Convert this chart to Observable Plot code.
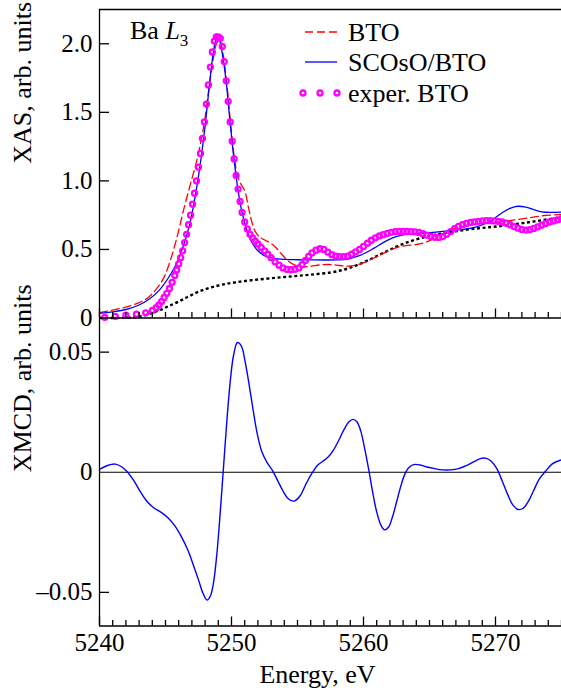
<!DOCTYPE html>
<html>
<head>
<meta charset="utf-8">
<script src="https://cdn.jsdelivr.net/npm/d3@7"></script>
<script src="https://cdn.jsdelivr.net/npm/@observablehq/plot@0.6"></script>
<style>
  body { margin: 0; background: #fff; }
  #chart { position: relative; width: 561px; height: 690px; font-family: "Liberation Serif", "Times New Roman", serif; }
  #chart svg { position: absolute; left: 0; overflow: visible; }
</style>
</head>
<body>
<div id="chart"></div>
<script>
// Energy axis (eV)
const energyTicks = [5240, 5250, 5260, 5270];
const energyMinorTicks = d3.range(5240, 5276).filter(e => e % 10 !== 0);

// Y axis ticks
const xasTicks = [0, 0.5, 1.0, 1.5, 2.0];
const xasTickLabels = ["0", "0.5", "1.0", "1.5", "2.0"];
const xmcdTicks = [-0.05, 0, 0.05];
const xmcdTickLabels = ["\u20130.05", "0", "0.05"];

const seriesNames = ["BTO", "SCOsO/BTO", "exper. BTO"];

// Calculated Ba L3 XAS, bulk BTO [energy, intensity]
const btoCalc = [
  [5240, 0.04], [5241, 0.058], [5242, 0.08], [5243, 0.112], [5243.7, 0.15],
  [5244.3, 0.21], [5244.9, 0.3], [5245.4, 0.43], [5245.9, 0.6], [5246.4, 0.8],
  [5246.9, 0.98], [5247.4, 1.16], [5247.9, 1.4], [5248.3, 1.68], [5248.6, 1.88],
  [5248.9, 2.01], [5249.1, 2.03], [5249.35, 1.93], [5249.6, 1.75], [5249.9, 1.45],
  [5250.2, 1.18], [5250.5, 1.02], [5250.75, 0.97], [5251.0, 0.93], [5251.3, 0.8],
  [5251.6, 0.68], [5251.9, 0.615], [5252.3, 0.58], [5252.8, 0.555], [5253.3, 0.52],
  [5253.8, 0.465], [5254.3, 0.415], [5254.8, 0.385], [5255.3, 0.372], [5256, 0.378],
  [5256.8, 0.388], [5257.5, 0.39], [5258.2, 0.383], [5258.9, 0.378], [5259.6, 0.39],
  [5260.3, 0.415], [5261, 0.448], [5261.7, 0.48], [5262.4, 0.51], [5263.2, 0.528],
  [5264, 0.536], [5264.7, 0.552], [5265.3, 0.578], [5266, 0.615], [5266.7, 0.645],
  [5267.5, 0.668], [5268.5, 0.685], [5269.5, 0.695], [5270.5, 0.703], [5271.5, 0.716],
  [5272.5, 0.73], [5273.5, 0.745], [5275, 0.756]
];

// Calculated Ba L3 XAS, SCOsO/BTO interface
const scosoCalc = [
  [5240, 0.034], [5241, 0.045], [5242, 0.062], [5243, 0.095], [5243.8, 0.14],
  [5244.5, 0.2], [5245.2, 0.29], [5245.8, 0.39], [5246.3, 0.51], [5246.8, 0.67],
  [5247.2, 0.86], [5247.6, 1.1], [5248.0, 1.4], [5248.35, 1.72], [5248.6, 1.92],
  [5248.85, 2.03], [5249.05, 2.03], [5249.3, 1.93], [5249.6, 1.72], [5249.9, 1.42],
  [5250.2, 1.15], [5250.5, 0.93], [5250.8, 0.77], [5251.1, 0.66], [5251.5, 0.56],
  [5252.0, 0.49], [5252.5, 0.455], [5253.2, 0.435], [5254.0, 0.427], [5255.0, 0.425],
  [5256.0, 0.424], [5257.0, 0.423], [5258.0, 0.424], [5258.7, 0.428], [5259.4, 0.445],
  [5260.1, 0.472], [5260.8, 0.51], [5261.5, 0.55], [5262.2, 0.585], [5262.9, 0.605],
  [5263.7, 0.615], [5264.6, 0.62], [5265.5, 0.627], [5266.5, 0.636], [5267.5, 0.646],
  [5268.5, 0.663], [5269.2, 0.688], [5269.9, 0.725], [5270.5, 0.768], [5271.1, 0.8],
  [5271.7, 0.815], [5272.3, 0.808], [5272.9, 0.79], [5273.5, 0.774], [5274.2, 0.77],
  [5275, 0.773]
];

// Edge step (arctangent-like background)
const edgeStep = [
  [5240, 0], [5242, 0.002], [5243, 0.01], [5243.8, 0.03], [5244.5, 0.055],
  [5245.2, 0.085], [5246, 0.12], [5246.8, 0.16], [5247.6, 0.195], [5248.4, 0.222],
  [5249.3, 0.243], [5250.3, 0.26], [5251.5, 0.275], [5253, 0.29], [5254.5, 0.303],
  [5256, 0.316], [5257.5, 0.332], [5258.5, 0.352], [5259.5, 0.385], [5260.5, 0.428],
  [5261.5, 0.475], [5262.5, 0.52], [5263.5, 0.558], [5264.5, 0.587], [5265.5, 0.608],
  [5266.5, 0.625], [5267.5, 0.64], [5268.5, 0.652], [5269.5, 0.662], [5270.5, 0.672],
  [5271.5, 0.685], [5272.5, 0.698], [5273.5, 0.713], [5274.5, 0.728], [5275, 0.735]
];

// Measured Ba L3 XAS of BTO
const experBto = [
  [5240.4, 0.005], [5241.2, 0.012], [5242.0, 0.02], [5242.8, 0.028], [5243.5, 0.038],
  [5244.0, 0.055], [5244.3, 0.075], [5244.5, 0.095], [5244.7, 0.12], [5244.9, 0.15],
  [5245.1, 0.18], [5245.3, 0.215], [5245.5, 0.26], [5245.7, 0.31], [5245.85, 0.35],
  [5246.0, 0.395], [5246.15, 0.44], [5246.3, 0.49], [5246.45, 0.55], [5246.6, 0.61],
  [5246.75, 0.68], [5246.9, 0.75], [5247.05, 0.83], [5247.2, 0.91], [5247.35, 1.0],
  [5247.5, 1.1], [5247.65, 1.2], [5247.8, 1.31], [5247.95, 1.43], [5248.1, 1.56],
  [5248.25, 1.7], [5248.4, 1.83], [5248.55, 1.94], [5248.7, 2.02], [5248.85, 2.05],
  [5249.0, 2.05], [5249.15, 2.04], [5249.3, 1.98], [5249.45, 1.87], [5249.6, 1.73],
  [5249.75, 1.58], [5249.9, 1.43], [5250.05, 1.29], [5250.2, 1.16], [5250.35, 1.04],
  [5250.5, 0.94], [5250.65, 0.85], [5250.8, 0.77], [5251.0, 0.70], [5251.2, 0.65],
  [5251.4, 0.61], [5251.6, 0.585], [5251.8, 0.56], [5252.0, 0.54], [5252.25, 0.515],
  [5252.5, 0.49], [5252.75, 0.465], [5253.0, 0.44], [5253.3, 0.41], [5253.6, 0.385],
  [5253.9, 0.365], [5254.2, 0.355], [5254.5, 0.352], [5254.8, 0.355], [5255.1, 0.365],
  [5255.35, 0.39], [5255.6, 0.42], [5255.85, 0.45], [5256.1, 0.475], [5256.4, 0.495],
  [5256.7, 0.505], [5257.0, 0.5], [5257.3, 0.48], [5257.6, 0.462], [5257.9, 0.452],
  [5258.2, 0.448], [5258.5, 0.448], [5258.8, 0.452], [5259.1, 0.465], [5259.4, 0.482],
  [5259.7, 0.5], [5260.0, 0.522], [5260.3, 0.545], [5260.6, 0.567], [5260.9, 0.585],
  [5261.2, 0.598], [5261.5, 0.608], [5261.8, 0.617], [5262.1, 0.625], [5262.4, 0.63],
  [5262.7, 0.632], [5263.0, 0.632], [5263.3, 0.631], [5263.6, 0.63], [5263.9, 0.628],
  [5264.2, 0.624], [5264.5, 0.615], [5264.8, 0.605], [5265.1, 0.595], [5265.4, 0.589],
  [5265.7, 0.588], [5266.0, 0.594], [5266.3, 0.61], [5266.6, 0.63], [5266.9, 0.652],
  [5267.2, 0.668], [5267.5, 0.68], [5267.8, 0.69], [5268.1, 0.697], [5268.4, 0.701],
  [5268.7, 0.705], [5269.0, 0.708], [5269.3, 0.71], [5269.6, 0.71], [5269.9, 0.708],
  [5270.2, 0.705], [5270.5, 0.7], [5270.8, 0.692], [5271.1, 0.68], [5271.4, 0.667],
  [5271.7, 0.655], [5272.0, 0.645], [5272.3, 0.641], [5272.6, 0.644], [5272.9, 0.653],
  [5273.2, 0.665], [5273.5, 0.677], [5273.8, 0.689], [5274.1, 0.7], [5274.4, 0.708],
  [5274.7, 0.716], [5275.0, 0.722]
];

// Calculated Ba L3 XMCD, SCOsO/BTO
const xmcdCalc = [
  [5240.0, 0.0012], [5240.6, 0.0028], [5241.2, 0.0034], [5241.7, 0.0022], [5242.1, 0.0002],
  [5242.6, -0.0035], [5243.1, -0.0082], [5243.6, -0.0122], [5244.1, -0.0148], [5244.7, -0.0168],
  [5245.2, -0.0190], [5245.7, -0.0222], [5246.2, -0.0268], [5246.7, -0.0325], [5247.1, -0.0385],
  [5247.5, -0.0448], [5247.85, -0.0505], [5248.15, -0.0532], [5248.4, -0.0515], [5248.65, -0.0455],
  [5248.9, -0.0335], [5249.15, -0.0165], [5249.4, 0.0025], [5249.65, 0.0215], [5249.9, 0.0375],
  [5250.15, 0.0485], [5250.45, 0.0540], [5250.75, 0.0525], [5251.05, 0.0455], [5251.35, 0.0360],
  [5251.65, 0.0255], [5251.95, 0.0160], [5252.3, 0.0085], [5252.7, 0.0040], [5253.1, 0.0008],
  [5253.5, -0.0035], [5253.9, -0.0078], [5254.3, -0.0110], [5254.75, -0.0120], [5255.2, -0.0098],
  [5255.65, -0.0048], [5256.1, -0.0004], [5256.5, 0.0028], [5256.9, 0.0045], [5257.3, 0.0062],
  [5257.7, 0.0090], [5258.1, 0.0130], [5258.5, 0.0175], [5258.9, 0.0210], [5259.2, 0.0220],
  [5259.5, 0.0210], [5259.8, 0.0170], [5260.1, 0.0095], [5260.4, 0.0010], [5260.7, -0.0085],
  [5261.0, -0.0165], [5261.3, -0.0218], [5261.6, -0.0240], [5261.9, -0.0228], [5262.2, -0.0185],
  [5262.5, -0.0125], [5262.8, -0.0063], [5263.1, -0.0012], [5263.4, 0.0018], [5263.8, 0.0032],
  [5264.3, 0.0030], [5264.8, 0.0022], [5265.4, 0.0015], [5266.0, 0.0010], [5266.6, 0.0010],
  [5267.2, 0.0015], [5267.8, 0.0028], [5268.4, 0.0045], [5268.9, 0.0058], [5269.3, 0.0058],
  [5269.7, 0.0045], [5270.1, 0.0015], [5270.5, -0.0035], [5270.9, -0.0090], [5271.3, -0.0135],
  [5271.7, -0.0155], [5272.1, -0.0150], [5272.5, -0.0120], [5272.9, -0.0075], [5273.3, -0.0030],
  [5273.8, 0.0005], [5274.3, 0.0035], [5275.0, 0.0052]
];

const FONT = "Liberation Serif";
const W = 561, ML = 99, MR = 0;
const frameW = W - ML - MR;
const E = d => d[0], V = d => d[1];
const axisStroke = {stroke: "black", strokeWidth: 1.3};

// Shared marks for the energy axis: inward ticks at every eV, longer at the decades
function energyTickMarks(frameH) {
  return [
    Plot.tickX(energyMinorTicks, {x: d => d, insetTop: frameH - 5.5, ...axisStroke}),
    Plot.tickX(energyTicks, {x: d => d, insetTop: frameH - 9, ...axisStroke})
  ];
}

// ---- Upper panel: XAS ----
const topH = 319, topMT = 9, topMB = 1.5;
const topFrameH = topH - topMT - topMB;
const xasTickTable = xasTicks.map((v, i) => ({v, label: xasTickLabels[i]}));

const xasPlot = Plot.plot({
  width: W, height: topH,
  marginLeft: ML, marginRight: MR, marginTop: topMT, marginBottom: topMB,
  x: {domain: [5240, 5275], axis: null},
  y: {domain: [0, 2.25], axis: null},
  style: {background: "transparent", fontFamily: FONT, color: "black", overflow: "visible"},
  marks: [
    Plot.line(edgeStep, {x: E, y: V, stroke: "black", strokeWidth: 2.4, strokeDasharray: "3,2.6", strokeLinecap: "butt", curve: "catmull-rom"}),
    Plot.line(btoCalc, {x: E, y: V, stroke: "#ff0000", strokeWidth: 1.3, strokeDasharray: "8,4", curve: "catmull-rom"}),
    Plot.line(scosoCalc, {x: E, y: V, stroke: "#0000ff", strokeWidth: 1.3, curve: "catmull-rom"}),
    Plot.dot(experBto, {x: E, y: V, r: 2.5, stroke: "#ff00ff", strokeWidth: 2.3, fill: "none"}),
    Plot.ruleX([5240], axisStroke),
    Plot.ruleY([0, 2.25], axisStroke),
    ...energyTickMarks(topFrameH),
    Plot.tickY(xasTicks.filter(v => v > 0), {y: d => d, insetRight: frameW - 10, ...axisStroke}),
    Plot.text(xasTickTable, {y: "v", text: "label", frameAnchor: "left", textAnchor: "end", dx: -7, fontSize: 25, fill: "black"}),
    Plot.text(["XAS, arb. units"], {text: d => d, frameAnchor: "left", rotate: -90, dx: -77, fontSize: 26, fill: "black"})
  ]
});
xasPlot.style.top = "0px";

// Legend and edge label inside the upper panel
{
  const svg = d3.select(xasPlot);
  const g = svg.append("g").attr("font-family", FONT).attr("font-size", 26)
    .attr("fill", "black").attr("text-anchor", "start");
  const x0 = 305, x1 = 337, tx = 348;
  const rows = [32, 62, 93];
  g.append("line").attr("x1", x0).attr("x2", x1).attr("y1", rows[0]).attr("y2", rows[0])
    .attr("stroke", "#ff0000").attr("stroke-width", 1.3).attr("stroke-dasharray", "8,4");
  g.append("line").attr("x1", x0).attr("x2", x1).attr("y1", rows[1]).attr("y2", rows[1])
    .attr("stroke", "#0000ff").attr("stroke-width", 1.3);
  [303, 320, 337].forEach(cx => g.append("circle").attr("cx", cx).attr("cy", rows[2]).attr("r", 2.5)
    .attr("fill", "none").attr("stroke", "#ff00ff").attr("stroke-width", 2.3));
  seriesNames.forEach((name, i) => g.append("text").attr("x", tx).attr("y", rows[i] + 8.5)
    .attr("text-anchor", "start").text(name));

  const lbl = g.append("text").attr("x", 130).attr("y", 39).attr("text-anchor", "start");
  lbl.append("tspan").text("Ba ");
  lbl.append("tspan").attr("font-style", "italic").text("L");
  lbl.append("tspan").attr("font-size", 17).attr("dy", 7).text("3");
}

// ---- Lower panel: XMCD ----
const botTop = 318, botH = 372, botMB = 64.5;
const botFrameH = botH - botMB;
const xmcdTickTable = xmcdTicks.map((v, i) => ({v, label: xmcdTickLabels[i]}));

const xmcdPlot = Plot.plot({
  width: W, height: botH,
  marginLeft: ML, marginRight: MR, marginTop: 0, marginBottom: botMB,
  x: {domain: [5240, 5275], axis: null},
  y: {domain: [-0.064, 0.064], axis: null},
  style: {background: "transparent", fontFamily: FONT, color: "black", overflow: "visible"},
  marks: [
    Plot.ruleY([0], {stroke: "black", strokeWidth: 1.2}),
    Plot.line(xmcdCalc, {x: E, y: V, stroke: "#0000ff", strokeWidth: 1.4, curve: "catmull-rom"}),
    Plot.ruleX([5240], axisStroke),
    Plot.ruleY([-0.064], axisStroke),
    ...energyTickMarks(botFrameH),
    Plot.tickY(xmcdTicks.filter(v => v !== 0), {y: d => d, insetRight: frameW - 10, ...axisStroke}),
    Plot.text(xmcdTickTable, {y: "v", text: "label", frameAnchor: "left", textAnchor: "end", dx: -7, fontSize: 25, fill: "black"}),
    Plot.text(energyTicks, {x: d => d, text: d => String(d), frameAnchor: "bottom", dy: 25, fontSize: 25, fill: "black"}),
    Plot.text(["Energy, eV"], {text: d => d, frameAnchor: "bottom", dx: -13, dy: 57, fontSize: 26, fill: "black"}),
    Plot.text(["XMCD, arb. units"], {text: d => d, frameAnchor: "left", rotate: -90, dx: -77, fontSize: 26, fill: "black"})
  ]
});
xmcdPlot.style.top = botTop + "px";

const chart = document.getElementById("chart");
chart.appendChild(xmcdPlot);
chart.appendChild(xasPlot);
</script>
</body>
</html>
